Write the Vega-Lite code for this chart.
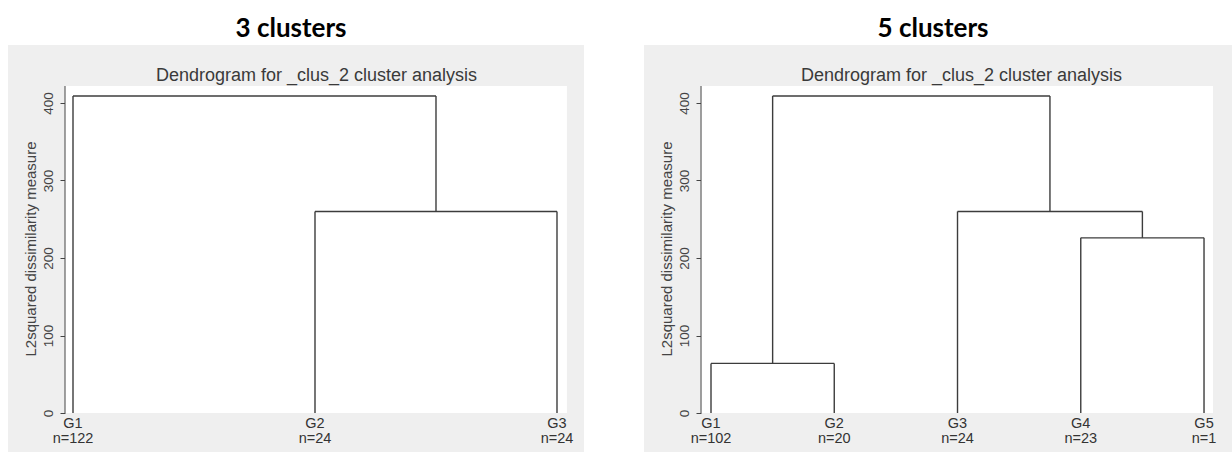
{
  "$schema": "https://vega.github.io/schema/vega-lite/v6.json",
  "padding": {"left": 8, "top": 16, "right": 0, "bottom": 0},
  "background": "white",
  "spacing": 60,
  "datasets": {
    "seg3": [
      {"x": 1, "x2": 1, "y": 0, "y2": 409},
      {"x": 2, "x2": 2, "y": 0, "y2": 260},
      {"x": 3, "x2": 3, "y": 0, "y2": 260},
      {"x": 2, "x2": 3, "y": 260, "y2": 260},
      {"x": 2.5, "x2": 2.5, "y": 260, "y2": 409},
      {"x": 1, "x2": 2.5, "y": 409, "y2": 409}
    ],
    "seg5": [
      {"x": 1, "x2": 1, "y": 0, "y2": 64},
      {"x": 2, "x2": 2, "y": 0, "y2": 64},
      {"x": 1, "x2": 2, "y": 64, "y2": 64},
      {"x": 1.5, "x2": 1.5, "y": 64, "y2": 409},
      {"x": 4, "x2": 4, "y": 0, "y2": 226},
      {"x": 5, "x2": 5, "y": 0, "y2": 226},
      {"x": 4, "x2": 5, "y": 226, "y2": 226},
      {"x": 4.5, "x2": 4.5, "y": 226, "y2": 260},
      {"x": 3, "x2": 3, "y": 0, "y2": 260},
      {"x": 3, "x2": 4.5, "y": 260, "y2": 260},
      {"x": 3.75, "x2": 3.75, "y": 260, "y2": 409},
      {"x": 1.5, "x2": 3.75, "y": 409, "y2": 409}
    ],
    "leaf3": [
      {"pos": 1, "name": "G1", "count": "n=122"},
      {"pos": 2, "name": "G2", "count": "n=24"},
      {"pos": 3, "name": "G3", "count": "n=24"}
    ],
    "leaf5": [
      {"pos": 1, "name": "G1", "count": "n=102"},
      {"pos": 2, "name": "G2", "count": "n=20"},
      {"pos": 3, "name": "G3", "count": "n=24"},
      {"pos": 4, "name": "G4", "count": "n=23"},
      {"pos": 5, "name": "G5", "count": "n=1"}
    ]
  },
  "config": {
    "font": "Liberation Sans",
    "view": {"stroke": null, "fill": "#efefef"},
    "title": {"font": "Lato", "fontSize": 26, "fontWeight": "bold", "color": "#000000", "anchor": "middle", "baseline": "bottom", "offset": 3, "dx": -5}
  },
  "hconcat": [
    {
      "title": "3 clusters",
      "width": 576,
      "height": 407,
      "layer": [
        {
          "data": {"values": [{}]},
          "mark": {"type": "rect", "color": "white"},
          "encoding": {
            "x": {"datum": 0.967, "type": "quantitative", "scale": {"domain": [0.7314, 3.1116], "nice": false, "zero": false},
                  "axis": {"orient": "top", "domain": false, "ticks": false, "labels": false, "grid": false,
                           "title": "Dendrogram for _clus_2 cluster analysis", "titleX": 308,
                           "titleFont": "Liberation Sans", "titleFontSize": 18, "titleFontWeight": "normal",
                           "titleColor": "#3a3a3a", "offset": -35, "titlePadding": 0, "titleBaseline": "alphabetic"}},
            "x2": {"datum": 3.041},
            "y": {"datum": 0, "type": "quantitative", "scale": {"domain": [-50.3, 474.8], "nice": false, "zero": false},
                  "axis": {"values": [0, 100, 200, 300, 400], "grid": false, "domain": false, "ticks": true, "tickSize": 5, "tickColor": "#444444",
                           "labelAngle": -90, "labelAlign": "center", "labelBaseline": "bottom",
                           "labelFont": "Liberation Sans", "labelFontSize": 13.5, "labelColor": "#444444", "labelPadding": 5,
                           "title": "L2squared dissimilarity measure", "titleFont": "Liberation Sans", "titleFontSize": 15,
                           "titleFontWeight": "normal", "titleColor": "#444444", "titlePadding": 3, "offset": -57}},
            "y2": {"datum": 421.9}
          }
        },
        {
          "data": {"values": [{}]},
          "mark": {"type": "rule", "color": "#444444", "strokeWidth": 1},
          "encoding": {
            "x": {"datum": 0.967, "type": "quantitative"},
            "y": {"datum": 0, "type": "quantitative"},
            "y2": {"datum": 421.9}
          }
        },
        {
          "data": {"name": "seg3"},
          "mark": {"type": "rule", "color": "#3c3c3c", "strokeWidth": 1.4},
          "encoding": {
            "x": {"field": "x", "type": "quantitative"},
            "x2": {"field": "x2"},
            "y": {"field": "y", "type": "quantitative"},
            "y2": {"field": "y2"}
          }
        },
        {
          "data": {"name": "leaf3"},
          "mark": {"type": "text", "dy": 11, "baseline": "middle", "align": "center", "fontSize": 14.5, "font": "Liberation Sans", "color": "#333333"},
          "encoding": {
            "x": {"field": "pos", "type": "quantitative"},
            "y": {"datum": 0, "type": "quantitative"},
            "text": {"field": "name"}
          }
        },
        {
          "data": {"name": "leaf3"},
          "mark": {"type": "text", "dy": 26, "baseline": "middle", "align": "center", "fontSize": 14.5, "font": "Liberation Sans", "color": "#333333"},
          "encoding": {
            "x": {"field": "pos", "type": "quantitative"},
            "y": {"datum": 0, "type": "quantitative"},
            "text": {"field": "count"}
          }
        }
      ]
    },
    {
      "title": "5 clusters",
      "width": 588,
      "height": 407,
      "layer": [
        {
          "data": {"values": [{}]},
          "mark": {"type": "rect", "color": "white"},
          "encoding": {
            "x": {"datum": 0.919, "type": "quantitative", "scale": {"domain": [0.4564, 5.227], "nice": false, "zero": false},
                  "axis": {"orient": "top", "domain": false, "ticks": false, "labels": false, "grid": false,
                           "title": "Dendrogram for _clus_2 cluster analysis", "titleX": 317,
                           "titleFont": "Liberation Sans", "titleFontSize": 18, "titleFontWeight": "normal",
                           "titleColor": "#3a3a3a", "offset": -35, "titlePadding": 0, "titleBaseline": "alphabetic"}},
            "x2": {"datum": 5.073},
            "y": {"datum": 0, "type": "quantitative", "scale": {"domain": [-50.3, 474.8], "nice": false, "zero": false},
                  "axis": {"values": [0, 100, 200, 300, 400], "grid": false, "domain": false, "ticks": true, "tickSize": 5, "tickColor": "#444444",
                           "labelAngle": -90, "labelAlign": "center", "labelBaseline": "bottom",
                           "labelFont": "Liberation Sans", "labelFontSize": 13.5, "labelColor": "#444444", "labelPadding": 5,
                           "title": "L2squared dissimilarity measure", "titleFont": "Liberation Sans", "titleFontSize": 15,
                           "titleFontWeight": "normal", "titleColor": "#444444", "titlePadding": 3, "offset": -57}},
            "y2": {"datum": 421.9}
          }
        },
        {
          "data": {"values": [{}]},
          "mark": {"type": "rule", "color": "#444444", "strokeWidth": 1},
          "encoding": {
            "x": {"datum": 0.919, "type": "quantitative"},
            "y": {"datum": 0, "type": "quantitative"},
            "y2": {"datum": 421.9}
          }
        },
        {
          "data": {"name": "seg5"},
          "mark": {"type": "rule", "color": "#3c3c3c", "strokeWidth": 1.4},
          "encoding": {
            "x": {"field": "x", "type": "quantitative"},
            "x2": {"field": "x2"},
            "y": {"field": "y", "type": "quantitative"},
            "y2": {"field": "y2"}
          }
        },
        {
          "data": {"name": "leaf5"},
          "mark": {"type": "text", "dy": 11, "baseline": "middle", "align": "center", "fontSize": 14.5, "font": "Liberation Sans", "color": "#333333"},
          "encoding": {
            "x": {"field": "pos", "type": "quantitative"},
            "y": {"datum": 0, "type": "quantitative"},
            "text": {"field": "name"}
          }
        },
        {
          "data": {"name": "leaf5"},
          "mark": {"type": "text", "dy": 26, "baseline": "middle", "align": "center", "fontSize": 14.5, "font": "Liberation Sans", "color": "#333333"},
          "encoding": {
            "x": {"field": "pos", "type": "quantitative"},
            "y": {"datum": 0, "type": "quantitative"},
            "text": {"field": "count"}
          }
        }
      ]
    }
  ]
}
